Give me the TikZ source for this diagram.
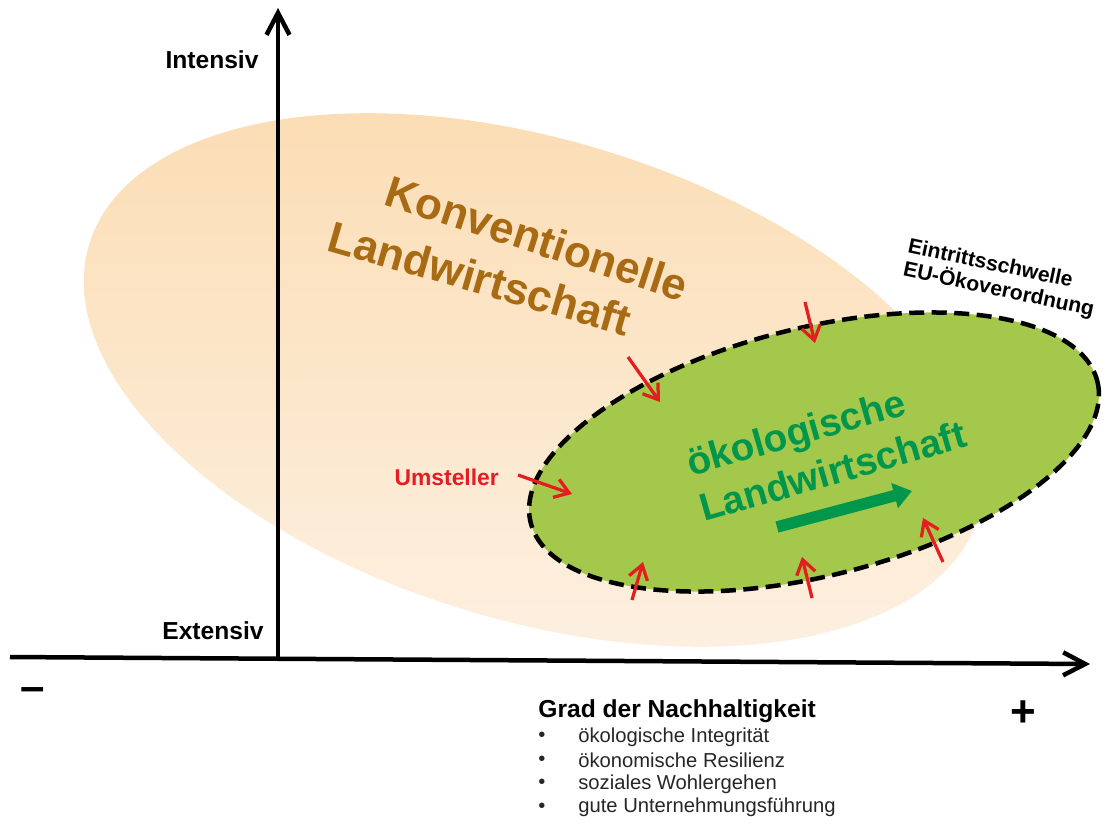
\documentclass[tikz,border=0pt]{standalone}
\usepackage{fontspec}
\setmainfont{Liberation Sans}
\usetikzlibrary{arrows.meta}

\begin{document}
\begin{tikzpicture}[x=0.2mm,y=-0.2mm,
  axis/.style={line width=0.9mm,-{Straight Barb[length=4.4mm,width=4.6mm]}},
  axislabel/.style={font=\fontsize{14}{16}\selectfont\bfseries},
  sign/.style={font=\fontsize{25}{28}\selectfont\bfseries},
  konvtext/.style={text=konvbrown,font=\fontsize{25}{30}\selectfont\bfseries},
  oekofield/.style={fill=oekofill,draw=black,line width=0.9mm,dash pattern=on 3mm off 1.5mm},
  oekotext/.style={text=oekogreen,align=left,font=\fontsize{22}{27}\selectfont\bfseries},
  trend/.style={draw=oekogreen,line width=2.3mm,-{Triangle[length=3.6mm,width=5mm]}},
  umst/.style={draw=umstred,line width=0.65mm,-{Straight Barb[length=2.8mm,width=3.8mm]}},
  listtext/.style={font=\fontsize{11.5}{13.4}\selectfont,text=black!85,anchor=west,inner sep=0pt}]
\definecolor{konvdark}{HTML}{FBDCB2}
\definecolor{konvlight}{HTML}{FDF1E3}
\definecolor{konvbrown}{HTML}{A86A12}
\definecolor{oekofill}{HTML}{A4C84C}
\definecolor{oekogreen}{HTML}{00964B}
\definecolor{umstred}{HTML}{E41E20}
\useasboundingbox (0,0) rectangle (1106,829);

% field of conventional farming
\coordinate (konvC) at (534,380);
\shade[top color=konvdark,bottom color=konvlight,rotate around={-17:(konvC)}]
  (konvC) ellipse [x radius=465,y radius=240];

% axes
\coordinate (yfoot) at (278,659);
\coordinate (ytop) at (278,8);
\coordinate (xleft) at (10,657);
\coordinate (xright) at (1090,664);
\draw[axis] (yfoot) -- (ytop);
\draw[axis] (xleft) -- (xright);
\node[axislabel,anchor=base] (intensiv) at (212,68) {Intensiv};
\node[axislabel,anchor=base] (extensiv) at (213,639) {Extensiv};
\node[sign] (minus) at (33,694) {–};
\node[sign] (plus) at (1023,714) {+};

% conventional label
\node[konvtext,rotate=-18] (konv1) at (537,238) {Konventionelle};
\node[konvtext,rotate=-16] (konv2) at (480,278) {Landwirtschaft};

% organic farming
\coordinate (oekoC) at (814,452);
\draw[oekofield,rotate around={14:(oekoC)}] (oekoC) ellipse [x radius=292,y radius=124];
\node[oekotext,rotate=16] (oeko) at (826,448) {ökologische\\Landwirtschaft};
\coordinate (trendA) at (777,527);
\coordinate (trendB) at (912,491);
\draw[trend] (trendA) -- (trendB);
\node[font=\fontsize{12}{13.5}\selectfont\bfseries,align=left,rotate=-12] (schwelle)
  at (1001,279) {Eintrittsschwelle\\EU-Ökoverordnung};

% converters
\node[text=umstred,font=\fontsize{13}{15}\selectfont\bfseries,anchor=base east] (umsteller)
  at (505,485) {Umsteller};
\foreach \n/\ax/\ay/\bx/\by in {1/518/475/572/494,2/628/357/660/402,3/805/302/815/343,
  4/943/562/923/518,5/812/598/802/557,6/632/600/643/562}
{ \coordinate (um\n-s) at (\ax,\ay);
  \coordinate (um\n-e) at (\bx,\by);
  \draw[umst] (um\n-s) -- (um\n-e);}

% sustainability criteria
\node[font=\fontsize{14}{16}\selectfont\bfseries,anchor=base west,inner sep=0pt] (grad)
  at (538,717) {Grad der Nachhaltigkeit};
\foreach \i/\txt in {1/ökologische Integrität,2/ökonomische Resilienz,
  3/soziales Wohlergehen,4/gute Unternehmungsführung}
{ \node[listtext] (dot\i) at (538,713.5+23.5*\i) {•};
  \node[listtext] (crit\i) at (578,713.5+23.5*\i) {\txt};}
\end{tikzpicture}
\end{document}
